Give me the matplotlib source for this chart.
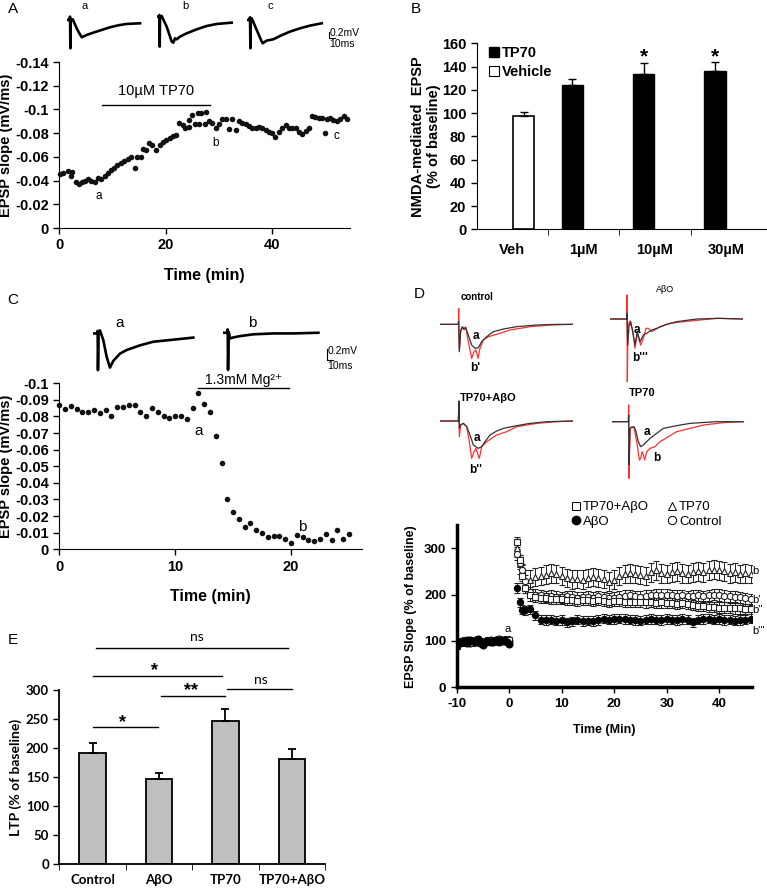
import numpy as np
import matplotlib
matplotlib.use("Agg")
import matplotlib.pyplot as plt
from matplotlib.lines import Line2D

W, H = 767, 888
plt.rcParams['font.family'] = ['Liberation Sans', 'DejaVu Sans']
plt.rcParams['axes.unicode_minus'] = False

# ---------------- data ----------------
# A: EPSP slope during 10uM TP70
a_time = [0.1, 0.75, 1.6, 2.2, 2.45, 3.1, 3.7, 4.2, 4.8, 5.4, 6.0, 6.7, 7.2, 7.9, 8.5,
          9.1, 9.7, 10.3, 10.9, 11.6, 12.2, 12.9, 13.5, 14.2, 14.6, 15.3, 15.7, 16.3, 16.9, 17.5,
          18.2, 18.9, 19.5, 20.1, 20.8, 21.3, 22.0, 22.5, 23.2, 23.7, 24.3, 24.4, 25.0, 25.5, 26.1,
          26.3, 26.7, 27.3, 27.5, 28.1, 28.7, 29.4, 30.0, 30.6, 31.3, 31.9, 32.5, 33.1, 33.7, 34.3,
          35.0, 35.6, 36.2, 36.9, 37.5, 38.1, 38.8, 39.4, 40.0, 40.6, 41.3, 41.9, 42.5, 43.1, 43.8,
          44.4, 45.0, 45.6, 46.3, 46.9, 47.5, 48.1, 48.8, 49.4, 49.9, 50.3, 50.9, 51.5, 52.2, 52.8,
          53.4, 54.0]
a_slope = [-0.0455, -0.046, -0.048, -0.044, -0.0475, -0.0385, -0.037, -0.0385, -0.0396, -0.0413,
           -0.040, -0.039, -0.0418, -0.0413, -0.0438, -0.046, -0.049, -0.051, -0.053, -0.0545,
           -0.0565, -0.058, -0.060, -0.051, -0.0595, -0.0595, -0.067, -0.0657, -0.0714, -0.0696,
           -0.0657, -0.0696, -0.0728, -0.074, -0.0756, -0.0773, -0.0785, -0.0883, -0.0868, -0.0846,
           -0.091, -0.0855, -0.0953, -0.0874, -0.0967, -0.088, -0.0967, -0.0874, -0.098, -0.090,
           -0.0886, -0.0846, -0.0874, -0.092, -0.092, -0.0832, -0.092, -0.083, -0.0902, -0.0889,
           -0.0874, -0.0863, -0.084, -0.0846, -0.085, -0.084, -0.083, -0.081, -0.0798, -0.077,
           -0.081, -0.0846, -0.087, -0.0846, -0.084, -0.0846, -0.0807, -0.079, -0.082, -0.084,
           -0.0947, -0.094, -0.093, -0.093, -0.080, -0.092, -0.093, -0.091, -0.090, -0.092,
           -0.0947, -0.092]

# A traces (ms, mV)
tra_a_t = [0, 4.7, 5.9, 6.5, 7.1, 10.6, 17.6, 22.3, 26.5, 35.3, 47.1, 61.7, 76.4, 91.1, 105.8, 129.4]
tra_a_v = [0, 0, 0.1, -0.85, 0, 0.02, -0.25, -0.40, -0.52, -0.45, -0.38, -0.30, -0.22, -0.16, -0.12, -0.10]
tra_b_t = [0, 4.1, 4.7, 5.3, 5.9, 8.8, 17.6, 26.5, 29.4, 32.4, 35.3, 41.2, 52.9, 70.6, 88.2, 105.8, 132.3]
tra_b_v = [0, 0, 0.05, -0.9, 0, 0.02, -0.3, -0.75, -0.78, -0.65, -0.68, -0.60, -0.50, -0.38, -0.28, -0.22, -0.18]
tra_c_t = [0, 4.7, 5.9, 6.5, 7.1, 8.8, 17.6, 26.5, 28.2, 35.3, 47.1, 58.8, 76.4, 94.1, 111.7, 132.3]
tra_c_v = [0, 0, 0.08, -0.85, 0, 0.05, -0.30, -0.65, -0.70, -0.62, -0.58, -0.48, -0.35, -0.25, -0.17, -0.10]

# B: NMDA-mediated EPSP
b_cats = ['Veh', '1µM', '10µM', '30µM']
tp70_mean = [124, 134, 136]
tp70_err = [5, 9, 8]
veh_mean = [97.5]
veh_err = [3.5]

# C: EPSP slope with 1.3 mM Mg2+
c_time = [i * 0.5 for i in range(51)]
c_slope = [-0.087, -0.0845, -0.0865, -0.0847, -0.083, -0.083, -0.084, -0.082, -0.084, -0.0805,
           -0.0855, -0.086, -0.087, -0.087, -0.083, -0.080, -0.085, -0.0825, -0.0805, -0.079,
           -0.0805, -0.080, -0.0785, -0.085, -0.094, -0.0878, -0.0827, -0.068, -0.052, -0.0305,
           -0.0227, -0.018, -0.0135, -0.0157, -0.0116, -0.010, -0.0076, -0.0078, -0.0078, -0.0062,
           -0.0038, -0.0086, -0.0074, -0.0058, -0.0052, -0.0064, -0.009, -0.0056, -0.0116, -0.006,
           -0.009]
trc_a_t = [0, 6, 6.5, 7, 8, 10, 15, 20, 25, 30, 40, 50, 70, 90, 120, 150]
trc_a_v = [0, 0, 0.05, -0.71, 0.03, 0.06, -0.13, -0.45, -0.66, -0.53, -0.39, -0.32, -0.23, -0.16, -0.12, -0.08]
trc_b_t = [0, 7, 7.5, 8, 9, 11, 16, 26, 46, 76, 106, 143.5]
trc_b_v = [0, 0, 0.065, -0.72, 0.02, -0.11, -0.09, -0.065, -0.03, -0.013, -0.013, 0]

# D: LTP time course (% of baseline)
d_base_t = [-10 + i * 0.5 for i in range(21)]
d_post_t = [1.5, 2, 2.5, 3] + list(range(4, 47))
ctrl_base = [92, 97, 100, 98, 101, 96, 99, 102, 97, 98, 95, 100, 99, 102, 98, 100, 104, 101, 99, 102, 100]
ctrl_post = [287, 268, 252, 230, 205, 200, 198, 196, 197, 195, 194, 196, 195, 193, 194, 195, 193,
             196, 194, 192, 193, 195, 197, 198, 196, 195, 197, 198, 200, 199, 200, 198, 197, 198,
             196, 197, 198, 196, 198, 200, 199, 197, 196, 195, 194, 192, 190]
tp70_base = [90, 98, 96, 99, 103, 100, 98, 97, 101, 100, 96, 99, 98, 101, 100, 99, 102, 100, 101, 99, 98]
tp70_post = [300, 265, 245, 232, 232, 238, 240, 243, 246, 244, 240, 236, 233, 234, 232, 236, 238,
             236, 234, 228, 232, 240, 244, 246, 244, 242, 240, 248, 252, 246, 244, 248, 250, 246,
             244, 248, 250, 248, 252, 254, 252, 250, 246, 248, 244, 246, 244]
mix_base = [95, 99, 97, 101, 100, 98, 96, 100, 102, 99, 97, 98, 101, 100, 97, 103, 105, 102, 100, 104, 101]
mix_post = [314, 275, 240, 215, 198, 195, 193, 192, 190, 190, 191, 189, 188, 187, 188, 189, 187,
            188, 186, 185, 186, 187, 185, 184, 185, 184, 183, 184, 182, 183, 181, 182, 180, 181,
            179, 178, 176, 175, 174, 173, 172, 172, 171, 170, 170, 169, 168]
abo_base = [88, 95, 98, 100, 96, 102, 99, 97, 104, 95, 92, 98, 100, 97, 99, 101, 98, 100, 103, 97, 94]
abo_post = [214, 183, 167, 166, 168, 155, 146, 145, 146, 144, 145, 140, 142, 146, 143, 144, 143,
            145, 148, 146, 147, 148, 147, 146, 145, 144, 146, 147, 146, 145, 147, 146, 145, 147,
            146, 140, 146, 147, 148, 146, 147, 145, 146, 144, 145, 146, 148]
ctrl_sem, tp70_sem, mix_sem, abo_sem = 12, 20, 11, 10

# D traces (ms, mV): black = before (a), red = after (b)
trd = {
    'control': ([0, 13.75, 14, 14.5, 15.5, 16.75, 18, 19.25, 21.25, 23.75, 26.25, 28.75, 31.25, 35, 40, 47.5, 57.5, 72.5, 87.5, 99.5],
                [0, 0, 0.04, -0.41, -0.11, -0.04, -0.08, -0.05, -0.16, -0.31, -0.36, -0.35, -0.26, -0.185, -0.11, -0.07, -0.035, -0.01, 0, 0],
                [0, 13.75, 14, 14.5, 15.5, 16.75, 18, 19.25, 21.25, 23.75, 25.5, 27, 28.5, 30, 32.5, 36.25, 42.5, 52.5, 67.5, 82.5, 99.5],
                [0, 0, 0.24, -0.385, -0.085, -0.035, -0.06, -0.04, -0.26, -0.51, -0.41, -0.385, -0.51, -0.36, -0.235, -0.185, -0.15, -0.085, -0.035, -0.01, 0]),
    'abo': ([0, 12.5, 12.75, 13.25, 14.25, 15.5, 17, 18.75, 20.5, 22.5, 25, 27.5, 31.25, 35, 42.5, 50, 65, 82.5, 100],
            [0, 0, 0.085, -0.39, -0.115, -0.04, -0.19, -0.39, -0.19, -0.34, -0.24, -0.215, -0.165, -0.14, -0.08, -0.04, 0, 0.01, 0],
            [0, 12.5, 12.75, 13, 13.5, 15, 17, 18.75, 20.5, 23, 25, 27, 28.75, 31.25, 37.5, 45, 55, 80, 100],
            [0, 0, 0.36, -0.94, -0.09, -0.03, -0.165, -0.44, -0.215, -0.39, -0.29, -0.14, -0.14, -0.19, -0.115, -0.065, -0.04, 0.01, 0]),
    'mix': ([0, 13.75, 14.25, 14.5, 15.5, 17.5, 20, 22.5, 25, 28.75, 31.25, 33.75, 37.5, 42.5, 47.5, 57.5, 67.5, 80, 99.5],
            [0, 0, 0.3, -0.11, -0.06, -0.035, -0.085, -0.21, -0.36, -0.41, -0.385, -0.31, -0.21, -0.15, -0.11, -0.07, -0.035, -0.01, 0],
            [0, 13.75, 14.25, 14.5, 15.5, 17.5, 20, 22, 23.75, 25.5, 27, 28.5, 29.5, 31.25, 35, 42.5, 50, 57.5, 72.5, 87.5, 99.5],
            [0, 0, 0.3, -0.235, -0.06, -0.035, -0.085, -0.31, -0.56, -0.46, -0.41, -0.51, -0.56, -0.385, -0.31, -0.21, -0.16, -0.085, -0.035, -0.01, 0]),
    'tp70': ([0, 12.5, 12.75, 13, 13.75, 15, 16.75, 18.25, 20, 21.75, 23.75, 26.25, 28.75, 33.75, 38.75, 48.75, 58.75, 78.75, 98.75],
             [0, 0, 0.1, -0.65, -0.1, -0.09, -0.075, -0.15, -0.3, -0.375, -0.35, -0.3, -0.25, -0.175, -0.1, -0.06, -0.025, 0, 0],
             [0, 12.5, 12.75, 13, 13.75, 15, 16.75, 18.75, 20.75, 21.75, 22.75, 23.75, 24.75, 26.25, 28.75, 32.5, 36.25, 42.5, 48.75, 58.75, 68.75, 83.75, 98.75],
             [0, 0, 0.25, -0.85, -0.1, -0.075, -0.09, -0.3, -0.575, -0.55, -0.45, -0.5, -0.575, -0.45, -0.4, -0.375, -0.3, -0.225, -0.15, -0.1, -0.05, -0.015, 0]),
}

# E: LTP summary
e_cats = ['Control', 'AβO', 'TP70', 'TP70+AβO']
e_mean = [192, 146, 247, 181]
e_err = [17, 11, 21, 17]

# ---------------- helpers ----------------
fig = plt.figure(figsize=(W / 100, H / 100), dpi=100)


def px_axes(left, top, width, height):
    return fig.add_axes([left / W, 1 - (top + height) / H, width / W, height / H])


def px_text(x, y, s, **kw):
    kw.setdefault('ha', 'center')
    kw.setdefault('va', 'center')
    fig.text(x / W, 1 - y / H, s, **kw)


def style(ax, size=10, family=None):
    for sp in ['top', 'right']:
        ax.spines[sp].set_visible(False)
    ax.tick_params(direction='out', length=4, width=1, labelsize=size)
    for lbl in ax.get_xticklabels() + ax.get_yticklabels():
        lbl.set_fontweight('bold')
        if family:
            lbl.set_family(family)


def trace_axes(left, top, xmax, ymin, ymax, pxms, pxmv):
    ax = px_axes(left, top, xmax * pxms, (ymax - ymin) * pxmv)
    ax.set_xlim(0, xmax)
    ax.set_ylim(ymin, ymax)
    ax.axis('off')
    return ax


# ---------------- panel A ----------------
px_text(13, 9, 'A', fontsize=11)
axa = px_axes(59.3, 62, 290.7, 166)
axa.scatter(a_time, a_slope, s=16, color='#111111', zorder=3, clip_on=False, linewidths=0)
axa.set_xlim(0, 54.6)
axa.set_ylim(0, -0.14)
a_ticks = [0, -0.02, -0.04, -0.06, -0.08, -0.1, -0.12, -0.14]
axa.set_yticks(a_ticks)
axa.set_yticklabels(['{:g}'.format(t) for t in a_ticks])
axa.set_xticks([0, 20, 40])
style(axa, 10.5)
axa.set_xlabel('Time (min)', fontsize=11.5, fontweight='bold', labelpad=11)
axa.set_ylabel('EPSP slope (mV/ms)', fontsize=10.5, fontweight='bold')
axa.yaxis.set_label_coords(-0.158, 0.5)
axa.plot([7.95, 28.3], [-0.104, -0.104], color='black', lw=1)
axa.text(18.1, -0.1155, '10µM TP70', ha='center', va='center', fontsize=10.5)
axa.text(7.45, -0.027, 'a', ha='center', va='center', fontsize=8.5)
axa.text(29.4, -0.072, 'b', ha='center', va='center', fontsize=8.5)
axa.text(52.0, -0.078, 'c', ha='center', va='center', fontsize=8.5)

pxms_a, pxmv_a = 0.567, 33.3
for left, top, tt, vv in [(66.7, 13.3, tra_a_t, tra_a_v), (156.7, 10, tra_b_t, tra_b_v), (246.7, 13.3, tra_c_t, tra_c_v)]:
    tax = trace_axes(left, top, 140, -1.0, 0.2, pxms_a, pxmv_a)
    tax.plot(tt, vv, color='black', lw=1.9)
    if left > 200:
        tax.plot([145.7, 145.7, 155.7], [-0.35, -0.55, -0.55], color='black', lw=0.8, clip_on=False)
        tax.text(147, -0.4, '0.2mV', fontsize=7.5, ha='left', va='center')
        tax.text(145, -0.72, '10ms', fontsize=7.5, ha='left', va='center')
px_text(85, 6, 'a', fontsize=8)
px_text(185, 6, 'b', fontsize=8)
px_text(270, 6, 'c', fontsize=8)

# ---------------- panel B ----------------
px_text(416, 9, 'B', fontsize=11)
axb = px_axes(476.7, 43.3, 290.3, 186)
xb = np.arange(len(b_cats))
axb.bar(xb[1:] - 0.16, tp70_mean, 0.3, color='black', edgecolor='black',
        yerr=[[0] * 3, tp70_err], error_kw=dict(ecolor='black', capsize=3, elinewidth=1, capthick=1))
axb.bar(xb[:1] + 0.16, veh_mean, 0.3, color='white', edgecolor='black', linewidth=1.2,
        yerr=[[0], veh_err], error_kw=dict(ecolor='black', capsize=3, elinewidth=1, capthick=1))
axb.set_xlim(-0.5, 3.57)
axb.set_ylim(0, 160)
axb.set_yticks(range(0, 161, 20))
axb.set_xticks(xb)
axb.set_xticklabels(b_cats)
axb.set_xticks([0.5, 1.5, 2.5], minor=True)
style(axb, 10.5)
axb.tick_params(axis='x', which='major', length=0, pad=10)
axb.tick_params(axis='x', which='minor', length=4, direction='out')
axb.set_ylabel('NMDA-mediated  EPSP\n(% of baseline)', fontsize=10.5, fontweight='bold')
axb.yaxis.set_label_coords(-0.122, 0.5)
for xi in [2, 3]:
    axb.text(xi - 0.16, 148, '*', ha='center', va='center', fontsize=15, fontweight='bold')
hb = [Line2D([], [], marker='s', ls='', mfc='black', mec='black', ms=7),
      Line2D([], [], marker='s', ls='', mfc='white', mec='black', ms=7, mew=0.8)]
axb.legend(hb, ['TP70', 'Vehicle'], loc='upper left', bbox_to_anchor=(0.045, 0.985), frameon=False,
           prop=dict(weight='bold', size=10.5), handlelength=0.6, handletextpad=0.25,
           labelspacing=0.35, borderpad=0, borderaxespad=0)

# ---------------- panel C ----------------
px_text(13, 300, 'C', fontsize=11)
axc = px_axes(59.3, 383.3, 302.4, 166)
axc.scatter(c_time, c_slope, s=16, color='#111111', zorder=3, clip_on=False, linewidths=0)
axc.set_xlim(0, 26.1)
axc.set_ylim(0, -0.1)
c_ticks = [0, -0.01, -0.02, -0.03, -0.04, -0.05, -0.06, -0.07, -0.08, -0.09, -0.1]
axc.set_yticks(c_ticks)
axc.set_yticklabels(['{:g}'.format(t) for t in c_ticks])
axc.set_xticks([0, 10, 20])
style(axc, 10.5)
axc.set_xlabel('Time (min)', fontsize=11.5, fontweight='bold', labelpad=11)
axc.set_ylabel('EPSP slope (mV/ms)', fontsize=10.5, fontweight='bold')
axc.yaxis.set_label_coords(-0.152, 0.5)
axc.plot([12.0, 19.8], [-0.097, -0.097], color='black', lw=1, clip_on=False)
axc.text(15.9, -0.102, '1.3mM Mg²⁺', ha='center', va='center', fontsize=10)
axc.text(12.0, -0.071, 'a', ha='center', va='center', fontsize=11)
axc.text(21.0, -0.0135, 'b', ha='center', va='center', fontsize=11)

pxms_c, pxmv_c = 0.667, 51.7
tca = trace_axes(93.3, 325.7, 155, -0.8, 0.15, pxms_c, pxmv_c)
tca.plot(trc_a_t, trc_a_v, color='black', lw=1.9)
tcb = trace_axes(222.7, 325.0, 155, -0.8, 0.15, pxms_c, pxmv_c)
tcb.plot(trc_b_t, trc_b_v, color='black', lw=1.9)
tcb.plot([156, 156, 166], [-0.32, -0.53, -0.53], color='black', lw=0.8, clip_on=False)
tcb.text(158, -0.36, '0.2mV', fontsize=7.5, ha='left', va='center')
tcb.text(156, -0.65, '10ms', fontsize=7.5, ha='left', va='center')
px_text(120, 323, 'a', fontsize=11)
px_text(252, 323, 'b', fontsize=11)

# ---------------- panel D ----------------
px_text(419, 294, 'D', fontsize=11)
pxms_d, pxmv_d = 1.333, 66.7
for key, left, base_top in [('control', 440, 88), ('abo', 610, 72), ('mix', 440, 378), ('tp70', 611.7, 380)]:
    bt, bv, rt, rv = trd[key]
    top = 295 + (base_top - 0.45 * 200) / 3
    tax = trace_axes(left, top, 100, -1.1, 0.45, pxms_d, pxmv_d)
    tax.plot(rt, rv, color='#ff3030', lw=0.9)
    tax.plot(bt, bv, color='#333333', lw=0.9)
px_text(477, 297, 'control', fontsize=7, fontweight='bold')
px_text(665, 290, 'AβO', fontsize=6.5)
px_text(488, 398, 'TP70+AβO', fontsize=8, fontweight='bold')
px_text(642, 393, 'TP70', fontsize=8, fontweight='bold')
for (x, y, s) in [(476, 336, 'a'), (475, 368, "b'"), (637, 330, 'a'), (640, 358, "b'''"),
                  (477, 438, 'a'), (476, 470, "b''"), (647, 432, 'a'), (657, 458, 'b')]:
    px_text(x, y, s, fontsize=8.5, fontweight='bold')

axd = px_axes(456.7, 525, 295, 162.3)
ekw = dict(capsize=2, elinewidth=0.7, capthick=0.7, ecolor='#222222', ls='none', ms=4.5, mew=0.8)
series = [(tp70_base, tp70_post, tp70_sem, '^', 'white', '#222222'),
          (ctrl_base, ctrl_post, ctrl_sem, 'o', 'white', '#222222'),
          (mix_base, mix_post, mix_sem, 's', 'white', '#222222'),
          (abo_base, abo_post, abo_sem, 'o', 'black', 'black')]
for base, post, sem, mk, fc, ec in series:
    axd.plot(d_base_t, base, ls='none', marker=mk, mfc=fc, mec=ec, ms=5, mew=0.8)
    axd.errorbar(d_post_t, post, yerr=sem, marker=mk, mfc=fc, mec=ec, **ekw)
axd.set_xlim(-10, 46.2)
axd.set_ylim(0, 350)
axd.set_yticks([0, 100, 200, 300])
axd.set_xticks(range(-10, 41, 10))
style(axd, 9.5)
axd.spines['left'].set_linewidth(2.5)
axd.spines['bottom'].set_linewidth(2.5)
axd.set_xlabel('Time (Min)', fontsize=9, fontweight='bold', labelpad=10)
axd.set_ylabel('EPSP Slope (% of baseline)', fontsize=9, fontweight='bold')
axd.yaxis.set_label_coords(-0.136, 0.5)
axd.text(-0.3, 126, 'a', fontsize=8, ha='center', va='center')
for yv, s in [(250, 'b'), (189, "b'"), (166, "b''"), (121, "b'''")]:
    axd.text(46.4, yv, s, fontsize=8, ha='left', va='center', clip_on=False)
lh = [Line2D([], [], marker='s', ls='', mfc='white', mec='black', ms=6, mew=0.7),
      Line2D([], [], marker='o', ls='', mfc='black', mec='black', ms=6),
      Line2D([], [], marker='^', ls='', mfc='white', mec='black', ms=6, mew=0.7),
      Line2D([], [], marker='o', ls='', mfc='white', mec='black', ms=6, mew=0.7)]
fig.legend(lh, ['TP70+AβO', 'AβO', 'TP70', 'Control'], ncol=2, loc='upper left',
           bbox_to_anchor=(572 / W, 1 - 501 / H), frameon=False, fontsize=9.5,
           handlelength=0.6, handletextpad=0.25, columnspacing=1.4, labelspacing=0.2,
           borderpad=0, borderaxespad=0)

# ---------------- panel E ----------------
px_text(13, 640, 'E', fontsize=11)
axe = px_axes(59.3, 690, 265.7, 174)
xe = np.arange(len(e_cats))
axe.bar(xe, e_mean, 0.4, color='#bfbfbf', edgecolor='black', linewidth=1.3,
        yerr=[[0] * 4, e_err], error_kw=dict(ecolor='black', capsize=3, elinewidth=1.3, capthick=1.3))
axe.set_xlim(-0.5, 3.5)
axe.set_ylim(0, 300)
axe.set_yticks(range(0, 301, 50))
axe.set_xticks(xe)
axe.set_xticklabels(e_cats)
axe.set_xticks([-0.5, 0.5, 1.5, 2.5, 3.5], minor=True)
style(axe, 9.5, family='Lato')
axe.tick_params(axis='x', which='major', length=0, pad=7)
axe.tick_params(axis='x', which='minor', length=4, direction='out')
axe.spines['left'].set_linewidth(1.3)
axe.spines['bottom'].set_linewidth(1.3)
axe.set_ylabel('LTP (% of baseline)', fontsize=10, fontweight='bold', family='Lato')
axe.yaxis.set_label_coords(-0.14, 0.5)
sig = [(0.06, 2.95, 372, 1.57, 392, 'ns'), (0.0, 1.95, 324, 0.94, 334, '*'),
       (1.03, 2.0, 290, 1.49, 299, '**'), (2.03, 3.0, 301, 2.53, 318, 'ns'),
       (0.0, 0.98, 236, 0.45, 244, '*')]
for x0, x1, yl, xt, yt, s in sig:
    axe.plot([x0, x1], [yl, yl], color='black', lw=1, clip_on=False)
    if s == 'ns':
        axe.text(xt, yt, s, ha='center', va='center', fontsize=10, family='Lato', clip_on=False)
    else:
        axe.text(xt, yt, s, ha='center', va='center', fontsize=13, fontweight='bold', clip_on=False)

fig.savefig('out.png', dpi=100)
